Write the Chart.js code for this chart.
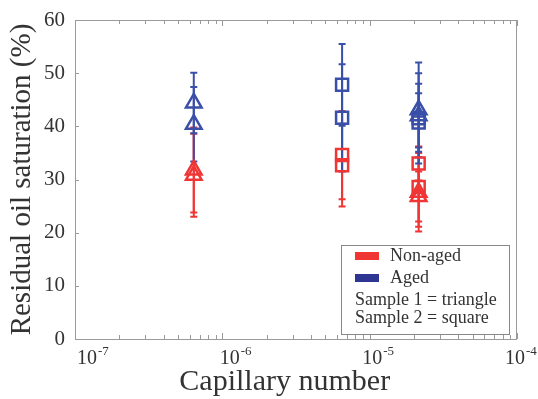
<!DOCTYPE html>
<html lang="en">
<head>
  <meta charset="UTF-8" />
  <title>Residual oil saturation vs capillary number</title>
  <style>
    * { box-sizing: border-box; margin: 0; padding: 0; }
    body { background: #fff; width: 538px; height: 399px; overflow: hidden; }
    .chart-box { position: relative; width: 538px; height: 399px; }
  </style>
</head>
<body>
  <div class="chart-box">
    <canvas id="satChart"></canvas>
  </div>

  <script src="https://cdn.jsdelivr.net/npm/chart.js"></script>
  <script>
    // capillary numbers for each measurement
    const nonAgedTriX = [6.4e-7, 6.4e-7, 2.15e-5, 2.15e-5];
    const nonAgedTriY = [31.8, 30.8, 27.6, 26.8];
    const nonAgedTriErr = [8.0, 7.8, 7.4, 4.7];

    const nonAgedSqX = [6.5e-6, 6.5e-6, 2.15e-5, 2.15e-5];
    const nonAgedSqY = [34.6, 32.7, 33.0, 28.6];
    const nonAgedSqErr = [8.3, 7.8, 3.2, 7.5];

    const agedTriX = [6.4e-7, 6.4e-7, 2.15e-5, 2.15e-5];
    const agedTriY = [44.4, 40.4, 43.1, 42.0];
    const agedTriErr = [5.7, 7.0, 8.9, 6.0];

    const agedSqX = [6.5e-6, 6.5e-6, 2.15e-5, 2.15e-5];
    const agedSqY = [47.8, 41.6, 41.5, 40.7];
    const agedSqErr = [7.7, 10.1, 8.5, 5.5];

    const xMajorValues = [1e-7, 1e-6, 1e-5, 1e-4];
    const xMajorExps = ['-7', '-6', '-5', '-4'];
    const legendItems = ['Non-aged', 'Aged'];
    const legendNotes = ['Sample 1 = triangle', 'Sample 2 = square'];

    const RED = '#f03535';
    const BLUE = '#3a4fa8';
    const FRAME = '#9a9a9a';
    const TEXT = '#333';
    const SERIF = "'Liberation Serif', 'Times New Roman', serif";

    function points(xs, ys, errs) {
      return xs.map((x, i) => ({ x: x, y: ys[i], err: errs[i] }));
    }

    function series(label, xs, ys, errs, color, style, radius) {
      return {
        label: label,
        data: points(xs, ys, errs),
        borderColor: color,
        backgroundColor: 'rgba(0,0,0,0)',
        pointStyle: style,
        pointRadius: radius,
        pointHoverRadius: radius,
        pointBorderWidth: 2.5,
        showLine: false
      };
    }

    // error bars, drawn under the markers
    const errorBars = {
      id: 'errorBars',
      beforeDatasetsDraw(chart) {
        const ctx = chart.ctx;
        const xs = chart.scales.x, ys = chart.scales.y;
        ctx.save();
        chart.data.datasets.forEach(ds => {
          ctx.strokeStyle = ds.borderColor;
          ctx.lineWidth = 2;
          ds.data.forEach(p => {
            const px = xs.getPixelForValue(p.x);
            const top = ys.getPixelForValue(p.y + p.err);
            const bot = ys.getPixelForValue(p.y - p.err);
            ctx.beginPath();
            ctx.moveTo(px, top); ctx.lineTo(px, bot);
            ctx.moveTo(px - 3.5, top); ctx.lineTo(px + 3.5, top);
            ctx.moveTo(px - 3.5, bot); ctx.lineTo(px + 3.5, bot);
            ctx.stroke();
          });
        });
        ctx.restore();
      }
    };

    // frame, inward ticks, power-of-ten labels and the boxed legend
    const frameAndLegend = {
      id: 'frameAndLegend',
      afterDraw(chart) {
        const ctx = chart.ctx;
        const a = chart.chartArea;
        const xs = chart.scales.x, ys = chart.scales.y;
        ctx.save();
        ctx.strokeStyle = FRAME;
        ctx.lineWidth = 1;
        ctx.strokeRect(a.left + 0.5, a.top + 0.5, a.right - a.left - 1, a.bottom - a.top);

        ctx.beginPath();
        xs.ticks.forEach(t => {
          const px = Math.round(xs.getPixelForValue(t.value)) + 0.5;
          const len = t.major ? 6 : 4;
          ctx.moveTo(px, a.bottom); ctx.lineTo(px, a.bottom - len);
          ctx.moveTo(px, a.top); ctx.lineTo(px, a.top + len);
        });
        ys.ticks.forEach(t => {
          const py = Math.round(ys.getPixelForValue(t.value)) + 0.5;
          ctx.moveTo(a.left, py); ctx.lineTo(a.left + 4, py);
        });
        ctx.stroke();

        // 10^n labels with a raised exponent
        ctx.fillStyle = TEXT;
        ctx.textBaseline = 'alphabetic';
        ctx.textAlign = 'left';
        xMajorValues.forEach((v, i) => {
          const px = xs.getPixelForValue(v) + 2 - 4.7 * i;
          ctx.font = '20px ' + SERIF;
          ctx.fillText('10', px, a.bottom + 25);
          const w = ctx.measureText('10').width;
          ctx.font = '13px ' + SERIF;
          ctx.fillText(xMajorExps[i], px + w + 1, a.bottom + 16);
        });

        // legend box
        const lx = 341, ly = 245, lw = 168, lh = 89;
        ctx.fillStyle = '#fff';
        ctx.fillRect(lx, ly, lw, lh);
        ctx.strokeStyle = '#888';
        ctx.strokeRect(lx + 0.5, ly + 0.5, lw, lh);

        ctx.font = '18px ' + SERIF;
        ctx.textBaseline = 'middle';
        const swatch = [RED, '#2e3592'];
        legendItems.forEach((txt, i) => {
          const cy = ly + 11 + i * 22;
          ctx.fillStyle = swatch[i];
          ctx.fillRect(lx + 14, cy - 4, 24, 8);
          ctx.fillStyle = TEXT;
          ctx.fillText(txt, lx + 49, cy);
        });
        legendNotes.forEach((txt, i) => {
          ctx.fillStyle = TEXT;
          ctx.fillText(txt, lx + 14, ly + 55 + i * 18);
        });
        ctx.restore();
      }
    };

    new Chart(document.getElementById('satChart'), {
      type: 'scatter',
      data: {
        datasets: [
          series('Non-aged, sample 1', nonAgedTriX, nonAgedTriY, nonAgedTriErr, RED, 'triangle', 9),
          series('Non-aged, sample 2', nonAgedSqX, nonAgedSqY, nonAgedSqErr, RED, 'rect', 8.5),
          series('Aged, sample 1', agedTriX, agedTriY, agedTriErr, BLUE, 'triangle', 9),
          series('Aged, sample 2', agedSqX, agedSqY, agedSqErr, BLUE, 'rect', 8.5)
        ]
      },
      options: {
        responsive: true,
        maintainAspectRatio: false,
        animation: false,
        layout: { padding: { top: 20, right: 21, left: 0, bottom: 0 } },
        plugins: {
          legend: { display: false },
          tooltip: { enabled: false }
        },
        scales: {
          x: {
            type: 'logarithmic',
            min: 1e-7,
            max: 1e-4,
            grid: { display: false },
            border: { display: false },
            afterBuildTicks(scale) {
              const ticks = [];
              for (let e = -7; e <= -4; e++) {
                for (let m = 1; m <= 9; m++) {
                  const v = m * Math.pow(10, e);
                  if (v > 1e-4 * 1.0001) break;
                  ticks.push({ value: v, major: m === 1 });
                }
              }
              scale.ticks = ticks;
            },
            afterFit(scale) { scale.height = 60; },
            ticks: {
              autoSkip: false,
              maxRotation: 0,
              callback() { return ''; }
            },
            title: {
              display: true,
              // trailing spaces nudge the centred title a little left
              text: 'Capillary number   ',
              color: TEXT,
              font: { family: SERIF, size: 30, lineHeight: 1.1 },
              padding: { top: 0, bottom: 0 }
            }
          },
          y: {
            min: 0,
            max: 60,
            grid: { display: false },
            border: { display: false },
            afterFit(scale) { scale.width = 75; },
            ticks: {
              stepSize: 10,
              padding: 2,
              color: TEXT,
              font: { family: SERIF, size: 21 }
            },
            title: {
              display: true,
              text: 'Residual oil saturation (%)',
              color: TEXT,
              font: { family: SERIF, size: 29, lineHeight: 1.1 },
              padding: { top: 6, bottom: 0 }
            }
          }
        }
      },
      plugins: [errorBars, frameAndLegend]
    });
  </script>
</body>
</html>
